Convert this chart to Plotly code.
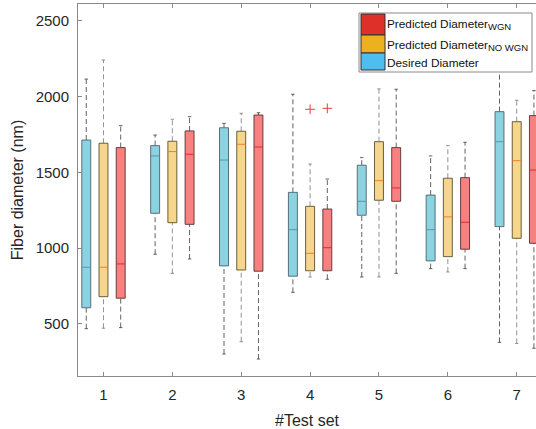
import plotly.graph_objects as go

# Test sets on the x axis
test_sets = [1, 2, 3, 4, 5, 6, 7]
tick_labels = ["1", "2", "3", "4", "5", "6", "7"]

# Box statistics per test set (nm): lower whisker, Q1, median, Q3, upper whisker
desired_low = [469, 960, 302, 709, 810, 865, 379]
desired_q1 = [607, 1230, 883, 815, 1217, 916, 1142]
desired_med = [874, 1608, 1581, 1122, 1309, 1122, 1702]
desired_q3 = [1713, 1676, 1794, 1368, 1547, 1350, 1900]
desired_high = [2115, 1746, 1823, 2015, 1597, 1608, 2200]

nowgn_low = [472, 834, 383, 810, 810, 843, 372]
nowgn_q1 = [680, 1168, 856, 851, 1316, 944, 1065]
nowgn_med = [874, 1637, 1685, 966, 1445, 1206, 1577]
nowgn_q3 = [1692, 1705, 1771, 1276, 1702, 1461, 1834]
nowgn_high = [2241, 1850, 1889, 1555, 2050, 1676, 1975]

wgn_low = [476, 929, 269, 795, 834, 865, 340]
wgn_q1 = [670, 1157, 848, 851, 1309, 993, 1032]
wgn_med = [896, 1619, 1667, 1003, 1397, 1171, 1515]
wgn_q3 = [1663, 1773, 1878, 1258, 1663, 1465, 1874]
wgn_high = [1808, 1867, 1893, 1456, 2048, 1698, 2039]

# Outliers (test set, value)
nowgn_out_x = [4]
nowgn_out_y = [1916]
wgn_out_x = [4]
wgn_out_y = [1922]

FONT = "Liberation Sans, Arial, sans-serif"
TXT = "#262626"
AX = "#8a8a8a"
BOX_HALF = 0.065
CAP_HALF = 0.025

series = [
    dict(name="Desired Diameter", offset=-0.25,
         low=desired_low, q1=desired_q1, med=desired_med, q3=desired_q3, high=desired_high,
         fill="rgba(140,211,226,1)", edge="rgba(70,90,100,0.85)", median="rgb(88,150,182)",
         whisk="rgba(70,70,70,0.85)", out_x=[], out_y=[]),
    dict(name="Predicted Diameter<sub>NO WGN</sub>", offset=0.0,
         low=nowgn_low, q1=nowgn_q1, med=nowgn_med, q3=nowgn_q3, high=nowgn_high,
         fill="rgba(245,214,140,1)", edge="rgba(80,70,40,0.85)", median="rgb(240,128,40)",
         whisk="rgba(120,120,120,0.8)", out_x=nowgn_out_x, out_y=nowgn_out_y),
    dict(name="Predicted Diameter<sub>WGN</sub>", offset=0.25,
         low=wgn_low, q1=wgn_q1, med=wgn_med, q3=wgn_q3, high=wgn_high,
         fill="rgba(249,128,128,1)", edge="rgba(80,40,40,0.85)", median="rgb(228,40,40)",
         whisk="rgba(60,60,60,0.8)", out_x=wgn_out_x, out_y=wgn_out_y),
]

fig = go.Figure()

for s in series:
    pos = [t + s["offset"] for t in test_sets]
    # dashed whiskers
    wx, wy = [], []
    for p, lo, q1, q3, hi in zip(pos, s["low"], s["q1"], s["q3"], s["high"]):
        wx += [p, p, None, p, p, None]
        wy += [lo, q1, None, q3, hi, None]
    fig.add_trace(go.Scatter(x=wx, y=wy, mode="lines", showlegend=False, hoverinfo="skip",
                             line=dict(color=s["whisk"], width=1, dash="5px,3px")))
    # whisker caps
    cx, cy = [], []
    for p, lo, hi in zip(pos, s["low"], s["high"]):
        cx += [p - CAP_HALF, p + CAP_HALF, None, p - CAP_HALF, p + CAP_HALF, None]
        cy += [lo, lo, None, hi, hi, None]
    fig.add_trace(go.Scatter(x=cx, y=cy, mode="lines", showlegend=False, hoverinfo="skip",
                             line=dict(color=s["whisk"], width=1)))
    # boxes
    bx, by = [], []
    for p, q1, q3 in zip(pos, s["q1"], s["q3"]):
        bx += [p - BOX_HALF, p + BOX_HALF, p + BOX_HALF, p - BOX_HALF, p - BOX_HALF, None]
        by += [q1, q1, q3, q3, q1, None]
    fig.add_trace(go.Scatter(x=bx, y=by, mode="lines", fill="toself", fillcolor=s["fill"],
                             showlegend=False, hoverinfo="skip",
                             line=dict(color=s["edge"], width=1)))
    # medians
    mx, my = [], []
    for p, m in zip(pos, s["med"]):
        mx += [p - BOX_HALF + 0.005, p + BOX_HALF - 0.005, None]
        my += [m, m, None]
    fig.add_trace(go.Scatter(x=mx, y=my, mode="lines", showlegend=False, hoverinfo="skip",
                             line=dict(color=s["median"], width=1)))
    # outliers
    if s["out_x"]:
        fig.add_trace(go.Scatter(x=[t + s["offset"] for t in s["out_x"]], y=s["out_y"],
                                 mode="markers", showlegend=False, hoverinfo="skip",
                                 marker=dict(symbol="cross-thin", size=7,
                                             line=dict(color="rgb(240,60,60)", width=1))))

# Legend drawn in paper space (paper = plotting area)
legend_rows = [
    ("Predicted Diameter", "WGN", "rgb(222,48,40)"),
    ("Predicted Diameter", "NO WGN", "rgb(237,177,32)"),
    ("Desired Diameter", "", "rgb(77,190,238)"),
]
W, H = 536, 429
ML, MR, MT, MB = 78, 0, 4, 53
def px(x):
    return (x - ML) / (W - ML - MR)
def py(y):
    return (H - MB - y) / (H - MB - MT)

shapes = [dict(type="rect", xref="paper", yref="paper", x0=px(359), x1=px(532),
               y0=py(72), y1=py(13), line=dict(color="#8a8a8a", width=1), fillcolor="white",
               layer="above")]
annotations = []
row_tops = [14, 35, 53]
row_bots = [35, 53, 70]
for (label, sub, col), t, b in zip(legend_rows, row_tops, row_bots):
    shapes.append(dict(type="rect", xref="paper", yref="paper", x0=px(361), x1=px(385),
                       y0=py(b), y1=py(t), fillcolor=col, line=dict(color="#303030", width=1),
                       layer="above"))
    text = label + (f"<sub><span style='font-size:9.5px'>{sub}</span></sub>" if sub else "")
    annotations.append(dict(xref="paper", yref="paper", x=px(385), y=py(t + 1),
                            text=text, showarrow=False, xanchor="left", yanchor="top",
                            font=dict(family=FONT, size=11.8, color="#111111")))

fig.update_layout(
    width=W, height=H,
    margin=dict(l=ML, r=MR, t=MT, b=MB),
    paper_bgcolor="white", plot_bgcolor="white",
    showlegend=False,
    font=dict(family=FONT, color=TXT),
    shapes=shapes, annotations=annotations,
    xaxis=dict(range=[0.63, 7.28], tickvals=test_sets, ticktext=tick_labels,
               showgrid=False, zeroline=False, showline=True, linecolor=AX, linewidth=1,
               mirror="ticks", ticks="inside", ticklen=4, tickcolor=AX,
               tickfont=dict(size=15, color=TXT), ticklabelstandoff=5,
               title=dict(text="#Test set", font=dict(size=16, color=TXT), standoff=12)),
    yaxis=dict(range=[157, 2610], tickvals=[500, 1000, 1500, 2000, 2500],
               showgrid=False, zeroline=False, showline=True, linecolor=AX, linewidth=1,
               ticks="inside", ticklen=4, tickcolor=AX,
               tickfont=dict(size=15, color=TXT), ticklabelstandoff=5,
               title=dict(text="Fiber diameter (nm)", font=dict(size=16, color=TXT), standoff=8)),
)

fig.write_html("out.html")
